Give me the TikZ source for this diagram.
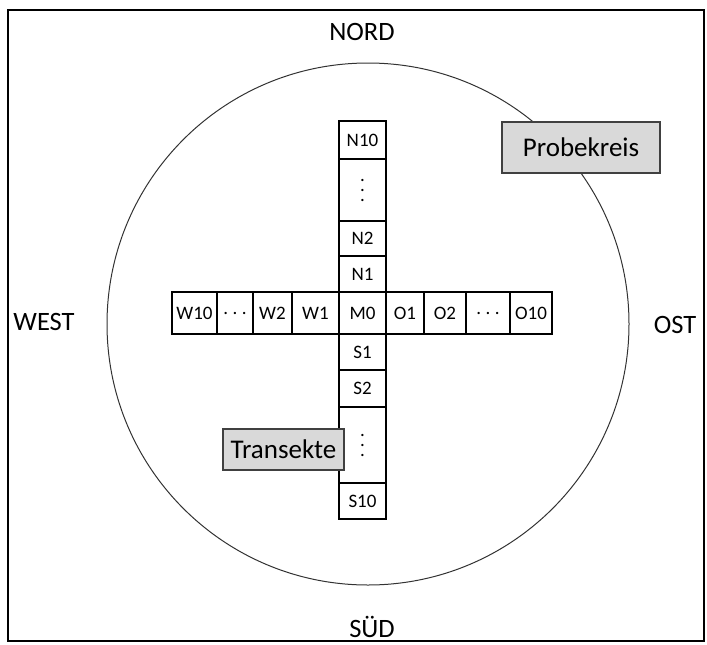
\documentclass[tikz,border=0pt]{standalone}
\usepackage{fontspec}
\setmainfont{Carlito}
\newcommand{\mydvdots}{\rlap{\raisebox{10pt}{.}}\rlap{.}\raisebox{-10pt}{.}}
\begin{document}
\begin{tikzpicture}[x=1pt,y=-1pt,
  cell/.style={draw=black, line width=1.1pt, fill=white, inner sep=0pt, font=\fontsize{19}{21}\selectfont},
  tag/.style={draw=black!75, line width=1.1pt, fill=black!15, inner sep=0pt, font=\fontsize{27}{29}\selectfont},
  compass/.style={inner sep=0pt, font=\fontsize{26.5}{28}\selectfont}]
\useasboundingbox (0,0) rectangle (707,645);
\node[draw=black, line width=1.6pt, minimum width=696pt, minimum height=631pt, inner sep=0pt] (frame) at (356,325.5) {};
\node[circle, draw=black!80, line width=1pt, minimum size=522pt, inner sep=0pt] (kreis) at (368,324) {};
% compass labels
\node[compass] (nord) at (362,32) {NORD};
\node[compass] (sued) at (372,627) {SÜD};
\node[compass] (west) at (44,322) {WEST};
\node[compass] (ost) at (675,325) {OST};
% vertical column
\node[cell, minimum width=47pt, minimum height=38pt] (n10) at (362.5,140) {N10};
\node[cell, minimum width=47pt, minimum height=62pt] (nd) at (362.5,190) {\mydvdots};
\node[cell, minimum width=47pt, minimum height=35pt] (n2) at (362.5,238.5) {N2};
\node[cell, minimum width=47pt, minimum height=36pt] (n1) at (362.5,274) {N1};
\node[cell, minimum width=47pt, minimum height=36pt] (s1) at (362.5,352) {S1};
\node[cell, minimum width=47pt, minimum height=37pt] (s2) at (362.5,388.5) {S2};
\node[cell, minimum width=47pt, minimum height=76pt] (sd) at (362.5,445) {\mydvdots};
\node[cell, minimum width=47pt, minimum height=36pt] (s10) at (362.5,501) {S10};
% horizontal row
\node[cell, minimum width=45pt, minimum height=42pt] (w10) at (194.5,313) {W10};
\node[cell, minimum width=36pt, minimum height=42pt] (wd) at (235,313) {.\hspace{4.5pt}.\hspace{4.5pt}.};
\node[cell, minimum width=39pt, minimum height=42pt] (w2) at (272.5,313) {W2};
\node[cell, minimum width=47pt, minimum height=42pt] (w1) at (315.5,313) {W1};
\node[cell, minimum width=47pt, minimum height=42pt] (m0) at (362.5,313) {M0};
\node[cell, minimum width=38pt, minimum height=42pt] (o1) at (405,313) {O1};
\node[cell, minimum width=42pt, minimum height=42pt] (o2) at (445,313) {O2};
\node[cell, minimum width=44pt, minimum height=42pt] (od) at (488,313) {.\hspace{4.5pt}.\hspace{4.5pt}.};
\node[cell, minimum width=42pt, minimum height=42pt] (o10) at (531,313) {O10};
% tags
\node[tag, minimum width=121pt, minimum height=41pt] (transekte) at (283.5,449.5) {Transekte};
\node[tag, minimum width=158pt, minimum height=51pt] (probekreis) at (581,147.5) {Probekreis};
\end{tikzpicture}
\end{document}
